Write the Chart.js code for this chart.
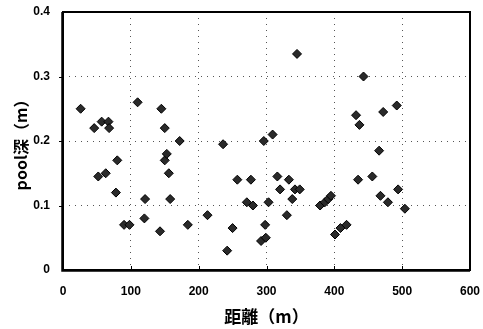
<!DOCTYPE html>
<html lang="ja">
<head>
<meta charset="UTF-8">
<title>pool深と距離</title>
<script src="https://cdn.jsdelivr.net/npm/chart.js"></script>
<style>
    html, body { margin: 0; background: #fff; }
    #wrap { width: 483px; height: 329px; }
</style>
</head>
<body>
<div id="wrap"><canvas id="scatter" width="483" height="329"></canvas></div>
<script>
    // distance (m) and pool depth (m)
    const distance = [26, 46, 52, 57, 63, 67, 68, 78, 80, 90, 98, 110, 120, 121, 143, 145, 150, 150, 153, 156,
        158, 172, 184, 213, 236, 242, 250, 257, 271, 277, 280, 292, 296, 298, 299, 303, 309, 316, 320, 330,
        333, 338, 342, 345, 349, 379, 386, 391, 395, 401, 409, 418, 432, 435, 437, 443, 456, 466, 468, 472,
        479, 492, 494, 504];
    const poolDepth = [0.25, 0.22, 0.145, 0.23, 0.15, 0.23, 0.22, 0.12, 0.17, 0.07, 0.07, 0.26, 0.08, 0.11, 0.06, 0.25, 0.22, 0.17, 0.18, 0.15,
        0.11, 0.2, 0.07, 0.085, 0.195, 0.03, 0.065, 0.14, 0.105, 0.14, 0.1, 0.045, 0.2, 0.07, 0.05, 0.105, 0.21, 0.145, 0.125, 0.085,
        0.14, 0.11, 0.125, 0.335, 0.125, 0.1, 0.105, 0.11, 0.115, 0.055, 0.065, 0.07, 0.24, 0.14, 0.225, 0.3, 0.145, 0.185, 0.115, 0.245,
        0.105, 0.255, 0.125, 0.095];
    const xTicks = [0, 100, 200, 300, 400, 500, 600];
    const yTicks = [0, 0.1, 0.2, 0.3, 0.4];

    const points = distance.map((d, i) => ({ x: d, y: poolDepth[i] }));

    // black frame round the plot area, plus short tick marks
    const frame = {
        id: 'frame',
        afterDraw(chart) {
            const a = chart.chartArea, c = chart.ctx;
            const xs = chart.scales.x, ys = chart.scales.y;
            c.save();
            c.strokeStyle = '#000';
            c.lineWidth = 2;
            c.strokeRect(a.left, a.top, a.right - a.left, a.bottom - a.top);
            c.lineWidth = 1.5;
            c.beginPath();
            c.moveTo(a.left - 1, a.top);
            c.lineTo(a.left - 1, a.bottom + 1);
            c.lineTo(a.right, a.bottom + 1);
            c.stroke();
            c.lineWidth = 1;
            c.beginPath();
            xTicks.slice(1, -1).forEach(v => {
                const px = Math.round(xs.getPixelForValue(v)) + 0.5;
                c.moveTo(px, a.bottom);
                c.lineTo(px, a.bottom - 4);
            });
            yTicks.slice(1, -1).forEach(v => {
                const py = Math.round(ys.getPixelForValue(v)) + 0.5;
                c.moveTo(a.left, py);
                c.lineTo(a.left - 4, py);
            });
            c.stroke();
            c.restore();
        }
    };

    const tickFont = { family: 'Arial, "Liberation Sans"', size: 12, weight: 'bold' };
    const titleFont = { family: '"Noto Sans CJK JP", Arial', size: 16, weight: 'bold' };
    const dotted = { color: '#555', lineWidth: 1, drawTicks: false };

    new Chart(document.getElementById('scatter'), {
        type: 'scatter',
        data: {
            datasets: [{
                data: points,
                pointStyle: 'rectRot',
                pointRadius: 4.5,
                backgroundColor: '#2a2a2a',
                borderColor: '#000',
                borderWidth: 1
            }]
        },
        options: {
            responsive: false,
            animation: false,
            layout: { padding: 0 },
            plugins: { legend: { display: false }, tooltip: { enabled: false } },
            scales: {
                x: {
                    min: 0, max: 600,
                    afterBuildTicks: s => { s.ticks = xTicks.map(v => ({ value: v })); },
                    afterFit: s => { s.height = 59; s.paddingLeft = 0; s.paddingRight = 13; },
                    grid: dotted,
                    border: { display: false, dash: [1, 5] },
                    ticks: { color: '#000', font: tickFont, padding: 14, maxRotation: 0 },
                    title: { display: true, text: '距離（m）', color: '#000', font: { ...titleFont, size: 17 }, padding: { top: 0, bottom: 2 } }
                },
                y: {
                    min: 0, max: 0.4,
                    afterBuildTicks: s => { s.ticks = yTicks.map(v => ({ value: v })); },
                    afterFit: s => { s.width = 63; s.paddingTop = 12; s.paddingBottom = 0; },
                    grid: dotted,
                    border: { display: false, dash: [1, 5] },
                    ticks: { color: '#000', font: tickFont, padding: 13,
                        callback: v => v === 0 ? '0' : v.toFixed(1) },
                    title: { display: true, text: 'pool深（m）', color: '#000', font: titleFont, padding: { top: 11 } }
                }
            }
        },
        plugins: [frame]
    });
</script>
</body>
</html>
